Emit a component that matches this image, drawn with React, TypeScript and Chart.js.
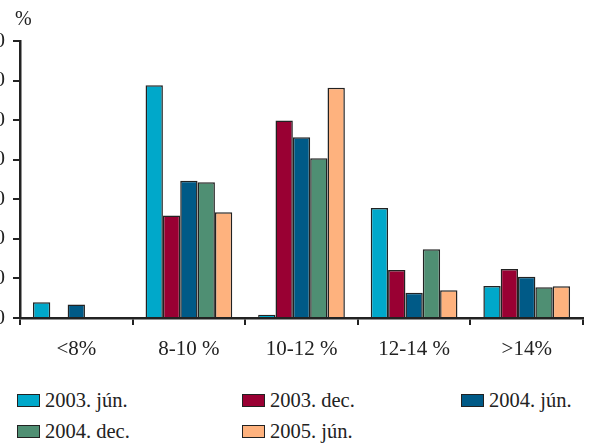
import React, { useEffect, useRef } from "react";
import { Chart, registerables } from "chart.js";

Chart.register(...registerables);

const categories = ["<8%", "8-10 %", "10-12 %", "12-14 %", ">14%"];
const seriesNames = ["2003. jún.", "2003. dec.", "2004. jún.", "2004. dec.", "2005. jún."];
const seriesColors = ["#00A8CA", "#990033", "#005A87", "#4F8F73", "#FEB27E"];
const s2003jun = [4.0, 58.8, 0.8, 27.8, 8.1];
const s2003dec = [null, 25.9, 49.9, 12.1, 12.4];
const s2004jun = [3.4, 34.7, 45.7, 6.4, 10.4];
const s2004dec = [null, 34.3, 40.4, 17.4, 7.8];
const s2005jun = [null, 26.7, 58.2, 7.0, 8.0];
const seriesValues = [s2003jun, s2003dec, s2004jun, s2004dec, s2005jun];
const yMin = 0;
const yMax = 70;
const yStep = 10;
const yUnit = "%";

const FONT = "'Liberation Serif', 'Times New Roman', serif";
const INK = "#222222";

const CANVAS_LEFT = -20;
const CANVAS_W = 611;
const CANVAS_H = 368;

const unitPlugin = {
  id: "unitLabel",
  afterDraw(chart: any) {
    const { ctx, chartArea } = chart;
    ctx.save();
    ctx.fillStyle = INK;
    ctx.font = `20px ${FONT}`;
    ctx.textAlign = "left";
    ctx.textBaseline = "middle";
    ctx.fillText(yUnit, chartArea.left - 5, 20);
    ctx.restore();
  },
};

export default function App() {
  const ref = useRef<HTMLCanvasElement | null>(null);

  useEffect(() => {
    if (!ref.current) return;
    const chart = new Chart(ref.current, {
      type: "bar",
      data: {
        labels: categories,
        datasets: seriesNames.map((name, i) => ({
          label: name,
          data: seriesValues[i] as any,
          backgroundColor: seriesColors[i],
          borderColor: INK,
          borderWidth: 1.5,
          barPercentage: 1,
          categoryPercentage: 0.77,
        })),
      },
      options: {
        animation: false,
        responsive: false,
        maintainAspectRatio: false,
        layout: { padding: { top: 41, right: 8, bottom: 0, left: 0 } },
        plugins: {
          legend: { display: false },
          tooltip: { enabled: false },
        },
        scales: {
          x: {
            afterFit(scale: any) {
              scale.height = 50;
            },
            grid: {
              offset: true,
              drawOnChartArea: false,
              drawTicks: true,
              tickLength: 7,
              color: INK,
              lineWidth: 2,
            },
            border: { display: true, color: INK, width: 2.5 },
            ticks: {
              color: INK,
              font: { family: FONT, size: 21 },
              padding: 12,
            },
          },
          y: {
            min: yMin,
            max: yMax,
            afterFit(scale: any) {
              scale.width = 40;
            },
            grid: {
              drawOnChartArea: false,
              drawTicks: true,
              tickLength: 7,
              color: INK,
              lineWidth: 2,
            },
            border: { display: true, color: INK, width: 2.5 },
            ticks: {
              stepSize: yStep,
              color: INK,
              font: { family: FONT, size: 21 },
              padding: 8,
            },
          },
        },
      },
      plugins: [unitPlugin],
    });
    return () => chart.destroy();
  }, []);

  const colLefts = [17, 242, 461];
  const rowTops = [391, 422];

  return (
    <div
      style={{
        position: "absolute",
        left: 0,
        top: 0,
        width: 591,
        height: 443,
        overflow: "hidden",
        background: "#ffffff",
      }}
    >
      <canvas
        ref={ref}
        width={CANVAS_W}
        height={CANVAS_H}
        style={{ position: "absolute", left: CANVAS_LEFT, top: 0, width: CANVAS_W, height: CANVAS_H }}
      />
      {seriesNames.map((name, i) => (
        <div
          key={name}
          style={{
            position: "absolute",
            left: colLefts[i % 3],
            top: rowTops[Math.floor(i / 3)],
            height: 18,
            display: "flex",
            alignItems: "center",
            fontFamily: FONT,
            fontSize: 20.5,
            color: INK,
            whiteSpace: "nowrap",
          }}
        >
          <span
            style={{
              display: "inline-block",
              width: 21,
              height: 11,
              background: seriesColors[i],
              border: `1px solid ${INK}`,
              marginRight: 5,
            }}
          />
          <span>{name}</span>
        </div>
      ))}
    </div>
  );
}
